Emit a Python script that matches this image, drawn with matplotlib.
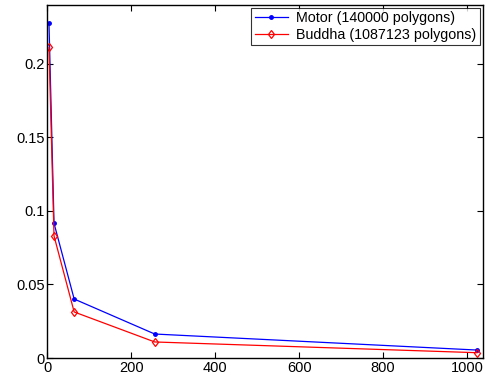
import matplotlib.pyplot as plt

plt.rcParams['font.family'] = ['Liberation Sans', 'DejaVu Sans']

# sample sizes and error values
sizes = [4, 16, 64, 256, 1024]
motor = [0.2277, 0.0916, 0.0401, 0.0163, 0.0054]
buddha = [0.2113, 0.0830, 0.0313, 0.0109, 0.0036]

fig = plt.figure(figsize=(4.87, 3.79), dpi=100)
ax = fig.add_axes([47.3 / 487, 21 / 379, (483 - 47.3) / 487, (358 - 5) / 379])

ax.plot(sizes, motor, color='blue', marker='.', markersize=5, linewidth=0.9,
        label='Motor (140000 polygons)')
ax.plot(sizes, buddha, color='red', marker='d', markersize=4.5, markerfacecolor='none',
        markeredgewidth=0.9, linewidth=0.9, label='Buddha (1087123 polygons)')

ax.set_xlim(0, 1038)
ax.set_ylim(0, 0.24)
ax.set_xticks([0, 200, 400, 600, 800, 1000])
ax.set_yticks([0, 0.05, 0.1, 0.15, 0.2])
ax.set_yticklabels(['0', '0.05', '0.1', '0.15', '0.2'])
ax.tick_params(direction='in', top=True, right=True, labelsize=10.5, length=4, pad=2)
for s in ax.spines.values():
    s.set_linewidth(1.0)

leg = ax.legend(loc='upper right', fontsize=10.3, frameon=True, fancybox=False,
                borderaxespad=0.2, handlelength=2.3, borderpad=0.25, labelspacing=0.15,
                handletextpad=0.6)
leg.get_frame().set_edgecolor('black')
leg.get_frame().set_linewidth(0.8)

fig.savefig('out.png', dpi=100)
